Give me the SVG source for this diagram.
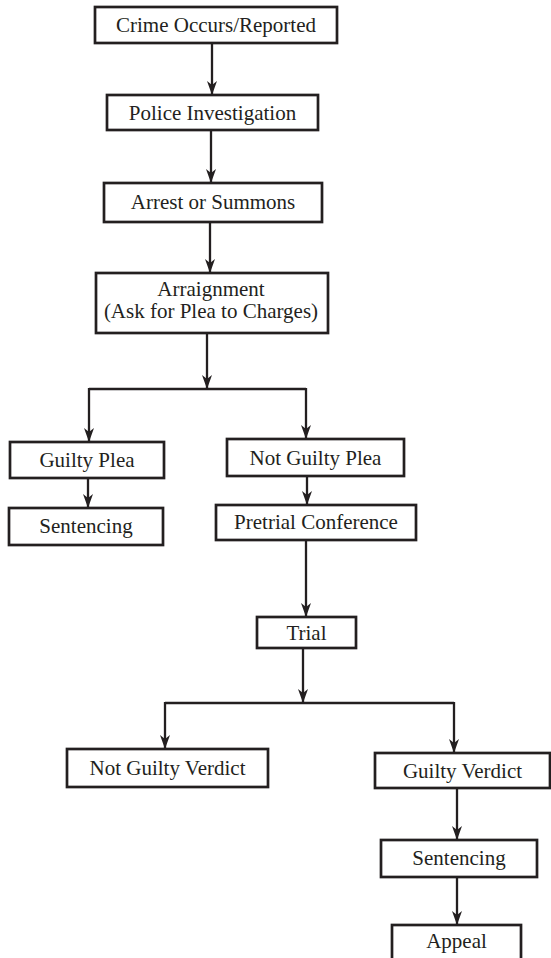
<svg xmlns="http://www.w3.org/2000/svg" width="551" height="958" viewBox="0 0 551 958">
<style>
  .box { fill: #fff; stroke: #231f20; stroke-width: 2.7; }
  .lbl { font-family: "Liberation Serif", "Times New Roman", serif; font-size: 21px; fill: #231f20; text-anchor: middle; }
  .conn { fill: none; stroke: #231f20; stroke-width: 2.3; }
</style>
<defs>
  <marker id="arr" markerUnits="userSpaceOnUse" markerWidth="15" markerHeight="11" refX="14" refY="5.5" orient="auto">
    <path d="M0,0.5 L14,5.5 L0,10.5 L4,5.5 Z" fill="#231f20"/>
  </marker>
</defs>
<rect width="551" height="958" fill="#fff"/>
<g id="connectors">
  <line class="conn" x1="212" y1="43" x2="212" y2="95" marker-end="url(#arr)"/>
  <line class="conn" x1="211" y1="130" x2="211" y2="183" marker-end="url(#arr)"/>
  <line class="conn" x1="210" y1="222" x2="210" y2="273" marker-end="url(#arr)"/>
  <line class="conn" x1="207" y1="333" x2="207" y2="389" marker-end="url(#arr)"/>
  <line class="conn" x1="89" y1="389" x2="306" y2="389"/>
  <line class="conn" x1="89" y1="388" x2="89" y2="442" marker-end="url(#arr)"/>
  <line class="conn" x1="306" y1="388" x2="306" y2="439" marker-end="url(#arr)"/>
  <line class="conn" x1="88" y1="478" x2="88" y2="508" marker-end="url(#arr)"/>
  <line class="conn" x1="307" y1="476" x2="307" y2="505" marker-end="url(#arr)"/>
  <line class="conn" x1="306" y1="540" x2="306" y2="617" marker-end="url(#arr)"/>
  <line class="conn" x1="303" y1="648" x2="303" y2="703" marker-end="url(#arr)"/>
  <line class="conn" x1="165" y1="703" x2="454" y2="703"/>
  <line class="conn" x1="165" y1="702" x2="165" y2="749" marker-end="url(#arr)"/>
  <line class="conn" x1="454" y1="702" x2="454" y2="753" marker-end="url(#arr)"/>
  <line class="conn" x1="457" y1="788" x2="457" y2="840" marker-end="url(#arr)"/>
  <line class="conn" x1="457" y1="877" x2="457" y2="925" marker-end="url(#arr)"/>
</g>
<g id="crime"><rect class="box" x="95" y="7" width="242" height="36"/><text class="lbl" x="216" y="32">Crime Occurs/Reported</text></g>
<g id="police"><rect class="box" x="107" y="95" width="211" height="35"/><text class="lbl" x="212.5" y="120">Police Investigation</text></g>
<g id="arrest"><rect class="box" x="104" y="183" width="218" height="39"/><text class="lbl" x="213" y="209">Arrest or Summons</text></g>
<g id="arraignment"><rect class="box" x="96" y="273" width="232" height="60"/><text class="lbl" x="211" y="296">Arraignment</text><text class="lbl" x="211" y="318">(Ask for Plea to Charges)</text></g>
<g id="guiltyPlea"><rect class="box" x="10" y="442" width="154" height="36"/><text class="lbl" x="87" y="467">Guilty Plea</text></g>
<g id="sentencing1"><rect class="box" x="9" y="508" width="154" height="37"/><text class="lbl" x="86" y="533">Sentencing</text></g>
<g id="notGuiltyPlea"><rect class="box" x="227" y="439" width="177" height="37"/><text class="lbl" x="315.5" y="465">Not Guilty Plea</text></g>
<g id="pretrial"><rect class="box" x="216" y="505" width="200" height="35"/><text class="lbl" x="316" y="529">Pretrial Conference</text></g>
<g id="trial"><rect class="box" x="257" y="617" width="99" height="31"/><text class="lbl" x="306.5" y="640">Trial</text></g>
<g id="notGuiltyVerdict"><rect class="box" x="67" y="749" width="201" height="38"/><text class="lbl" x="167.5" y="775">Not Guilty Verdict</text></g>
<g id="guiltyVerdict"><rect class="box" x="375" y="753" width="175" height="35"/><text class="lbl" x="462.5" y="778">Guilty Verdict</text></g>
<g id="sentencing2"><rect class="box" x="381" y="840" width="156" height="37"/><text class="lbl" x="459" y="865">Sentencing</text></g>
<g id="appeal"><rect class="box" x="392" y="925" width="129" height="45"/><text class="lbl" x="456.5" y="948">Appeal</text></g>
</svg>
